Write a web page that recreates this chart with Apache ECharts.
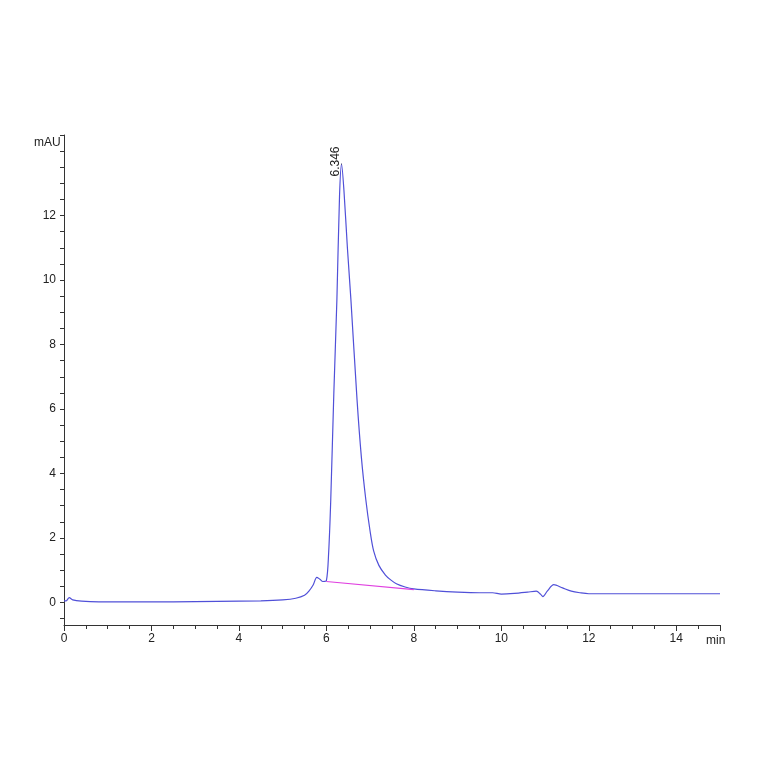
<!DOCTYPE html>
<html><head><meta charset="utf-8">
<script src="https://cdn.jsdelivr.net/npm/echarts@6/dist/echarts.min.js"></script>
<style>html,body{margin:0;padding:0;background:#fff}#c{width:764px;height:764px}</style>
</head><body><div id="c"></div>
<script>
const times = [0,0.05,0.12,0.2,0.4,0.8,1.5,2.5,3.5,4.5,5.0,5.3,5.5,5.6,5.7,5.78,5.85,5.92,6.0,6.05,6.1,6.17,6.24,6.3,6.346,6.4,6.48,6.56,6.7,6.8,6.9,7.0,7.08,7.2,7.35,7.47,7.6,7.8,8.0,8.5,9.0,9.5,9.8,10.0,10.3,10.6,10.8,10.9,10.95,11.05,11.2,11.4,11.6,11.8,12.0,13,14,15];
const signal = [0.05,0.05,0.15,0.08,0.04,0.02,0.02,0.02,0.03,0.05,0.08,0.13,0.22,0.35,0.55,0.78,0.72,0.65,0.68,1.5,3.2,6.5,9.4,12.6,13.6,12.8,11.0,9.4,6.3,4.5,3.2,2.2,1.6,1.15,0.85,0.7,0.58,0.48,0.42,0.36,0.32,0.3,0.3,0.26,0.28,0.32,0.35,0.25,0.18,0.35,0.55,0.45,0.35,0.3,0.27,0.27,0.27,0.27];
const baseTimes = [6.0, 8.0];
const baseVals = [0.65, 0.4];
const peakTime = 6.346, peakVal = 13.6, peakLabel = "6.346";
const xLabels = [0,2,4,6,8,10,12,14];
const yLabels = [0,2,4,6,8,10,12];

const yTicks=[]; for(let v=-0.5; v<=14.51; v+=0.5) yTicks.push(+v.toFixed(1));
const chart = echarts.init(document.getElementById('c'));
const ax = {lineStyle:{color:'#333',width:1}};
chart.setOption({
  animation:false,
  grid:{left:64,right:44,top:135,bottom:139},
  xAxis:{type:'value',min:0,max:15,interval:2,
    axisLine:{onZero:false,...ax},
    axisTick:{show:true,length:6,lineStyle:{color:'#333'}},
    minorTick:{show:true,splitNumber:4,length:4,lineStyle:{color:'#333'}},
    splitLine:{show:false},
    axisLabel:{showMaxLabel:false,color:'#222',fontSize:12,fontFamily:'Liberation Sans',margin:8,
      formatter:v=>xLabels.includes(v)?String(v):''}},
  yAxis:{type:'value',min:-0.7,max:14.5,
    axisLine:{show:true,...ax},
    axisTick:{show:true,length:4,customValues:yTicks,lineStyle:{color:'#333'}},
    splitLine:{show:false},
    axisLabel:{customValues:yLabels,color:'#222',fontSize:12,fontFamily:'Liberation Sans',margin:8}},
  graphic:[
    {type:'text',left:34,top:137,style:{text:'mAU',fill:'#222',font:'12px Liberation Sans'}},
    {type:'text',left:706,top:635,style:{text:'min',fill:'#222',font:'12px Liberation Sans'}}
  ],
  series:[
    {type:'line',data:times.map((t,i)=>[t,signal[i]]),showSymbol:false,smooth:0.3,
     lineStyle:{color:'#5050d8',width:1.2},
     markPoint:{symbol:'circle',symbolSize:1,data:[{coord:[peakTime,peakVal]}],
       label:{show:true,formatter:peakLabel,rotate:90,position:'top',distance:2,color:'#222',fontSize:12,fontFamily:'Liberation Sans'},
       itemStyle:{color:'#333'}}},
    {type:'line',data:baseTimes.map((t,i)=>[t,baseVals[i]]),showSymbol:false,
     lineStyle:{color:'#e040e0',width:1.2}}
  ]
});
</script></body></html>
